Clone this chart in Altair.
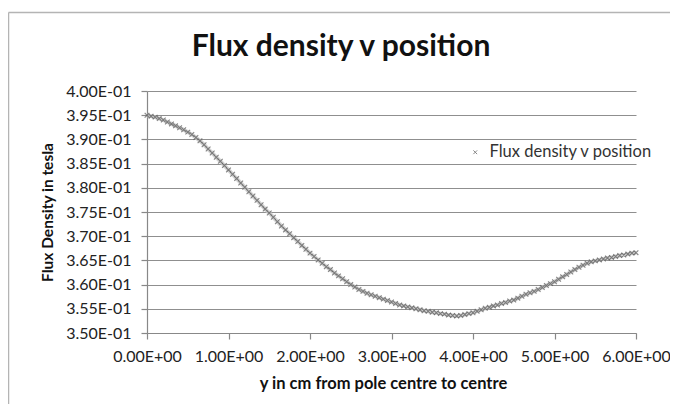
import altair as alt
import pandas as pd

# position along the gap (cm)
pos_cm = [0.00, 0.05, 0.10, 0.15, 0.20, 0.25, 0.30, 0.35, 0.40, 0.45,
          0.50, 0.55, 0.60, 0.65, 0.70, 0.75, 0.80, 0.85, 0.90, 0.95,
          1.00, 1.05, 1.10, 1.15, 1.20, 1.25, 1.30, 1.35, 1.40, 1.45,
          1.50, 1.55, 1.60, 1.65, 1.70, 1.75, 1.80, 1.85, 1.90, 1.95,
          2.00, 2.05, 2.10, 2.15, 2.20, 2.25, 2.30, 2.35, 2.40, 2.45,
          2.50, 2.55, 2.60, 2.65, 2.70, 2.75, 2.80, 2.85, 2.90, 2.95,
          3.00, 3.05, 3.10, 3.15, 3.20, 3.25, 3.30, 3.35, 3.40, 3.45,
          3.50, 3.55, 3.60, 3.65, 3.70, 3.75, 3.80, 3.85, 3.90, 3.95,
          4.00, 4.05, 4.10, 4.15, 4.20, 4.25, 4.30, 4.35, 4.40, 4.45,
          4.50, 4.55, 4.60, 4.65, 4.70, 4.75, 4.80, 4.85, 4.90, 4.95,
          5.00, 5.05, 5.10, 5.15, 5.20, 5.25, 5.30, 5.35, 5.40, 5.45,
          5.50, 5.55, 5.60, 5.65, 5.70, 5.75, 5.80, 5.85, 5.90, 5.95,
          6.00]

# flux density (tesla)
flux_t = [0.3950, 0.3948, 0.3946, 0.3943, 0.3940, 0.3936, 0.3932, 0.3928, 0.3924, 0.3920,
          0.3915, 0.3910, 0.3904, 0.3897, 0.3889, 0.3880, 0.3872, 0.3863, 0.3855, 0.3846,
          0.3837, 0.3828, 0.3819, 0.3810, 0.3801, 0.3792, 0.3783, 0.3774, 0.3765, 0.3756,
          0.3748, 0.3739, 0.3730, 0.3721, 0.3713, 0.3705, 0.3697, 0.3689, 0.3681, 0.3673,
          0.3665, 0.3658, 0.3651, 0.3644, 0.3637, 0.3631, 0.3624, 0.3618, 0.3612, 0.3606,
          0.3600, 0.3595, 0.3590, 0.3586, 0.3582, 0.3579, 0.3576, 0.3573, 0.3570, 0.3567,
          0.3564, 0.3561, 0.3558, 0.3556, 0.3554, 0.3552, 0.3550, 0.3548, 0.3546, 0.3545,
          0.3543, 0.3542, 0.3540, 0.3539, 0.3537, 0.3536, 0.3535, 0.3536, 0.3538, 0.3540,
          0.3542, 0.3545, 0.3548, 0.3551, 0.3553, 0.3556, 0.3558, 0.3561, 0.3563, 0.3566,
          0.3568, 0.3572, 0.3576, 0.3580, 0.3583, 0.3586, 0.3590, 0.3594, 0.3598, 0.3602,
          0.3606, 0.3611, 0.3616, 0.3621, 0.3626, 0.3631, 0.3636, 0.3640, 0.3644, 0.3647,
          0.3649, 0.3651, 0.3653, 0.3655, 0.3656, 0.3658, 0.3660, 0.3661, 0.3663, 0.3665,
          0.3666]

x_ticks = [0, 1, 2, 3, 4, 5, 6]
y_ticks = [0.350, 0.355, 0.360, 0.365, 0.370, 0.375, 0.380, 0.385, 0.390, 0.395, 0.400]

series_name = "Flux density v position"
chart_title = "Flux density v position"
x_title = "y in cm from pole centre to centre"
y_title = "Flux Density in tesla"

df = pd.DataFrame({"pos": pos_cm, "flux": flux_t, "series": series_name})

FONT = "Lato"
XMARK = "M-1,-1L1,1M-1,1L1,-1"

x_enc = alt.X("pos:Q", scale=alt.Scale(domain=[0, 6], nice=False),
              axis=alt.Axis(values=x_ticks, title=x_title, grid=False,
                            labelExpr="format(datum.value, '.2f') + 'E+00'",
                            labelOverlap=False, labelFlush=False,
                            labelPadding=9, titlePadding=11, titleFontSize=16.5,
                            titleX=236))
y_enc = alt.Y("flux:Q", scale=alt.Scale(domain=[0.35, 0.40], nice=False, zero=False),
              axis=alt.Axis(values=y_ticks, title=y_title, grid=True,
                            labelExpr="format(datum.value * 10, '.2f') + 'E-01'",
                            labelOverlap=False, labelFlush=False,
                            labelPadding=10, titleX=-100, titleAngle=270,
                            titleBaseline="middle", titleFontSize=15.5))

shadow = alt.Chart(df).mark_line(color="#c8c8c8", strokeWidth=4, opacity=0.8).encode(
    x=x_enc, y=y_enc)

points = alt.Chart(df).mark_point(shape=XMARK, filled=False, size=22, strokeWidth=1.1).encode(
    x=x_enc, y=y_enc,
    color=alt.Color("series:N", scale=alt.Scale(range=["#555555"]),
                    legend=alt.Legend(title=None, orient="none", legendX=320, legendY=53,
                                      symbolType=XMARK, symbolSize=14, symbolStrokeWidth=1,
                                      symbolStrokeColor="#888", labelFont=FONT,
                                      labelFontSize=16.5, labelColor="#333",
                                      labelOffset=6, labelLimit=400)))

title_layer = alt.Chart(alt.Data(values=[{"t": chart_title}])).mark_text(
    font=FONT, fontSize=30, fontWeight="bold", color="#111",
    align="center", baseline="alphabetic").encode(
    x=alt.value(194), y=alt.value(-35), text="t:N")

frame_left = alt.Chart(alt.Data(values=[{}])).mark_rule(color="#b4b4b4", strokeWidth=1.5).encode(
    x=alt.value(-138.5), y=alt.value(-78.5), y2=alt.value(330))
frame_top = alt.Chart(alt.Data(values=[{}])).mark_rule(color="#b4b4b4", strokeWidth=1.5).encode(
    x=alt.value(-138.5), x2=alt.value(540), y=alt.value(-78.5))

chart = alt.layer(frame_left, frame_top, shadow, points, title_layer).properties(
    width=489, height=242,
    padding={"left": 139, "top": 83, "right": 34, "bottom": 71},
    autosize=alt.AutoSizeParams(type="none"),
    background="white",
).configure_view(stroke=None).configure_axis(
    labelFont=FONT, titleFont=FONT, labelFontSize=16,
    labelColor="#222", titleColor="#111", titleFontWeight="bold",
    domainColor="#888", tickColor="#888", gridColor="#8f8f8f",
    tickSize=6, domainWidth=1.2, gridWidth=1.2, tickWidth=1.2,
)

chart.save("out.html", embed_options={"renderer": "svg", "actions": False})
